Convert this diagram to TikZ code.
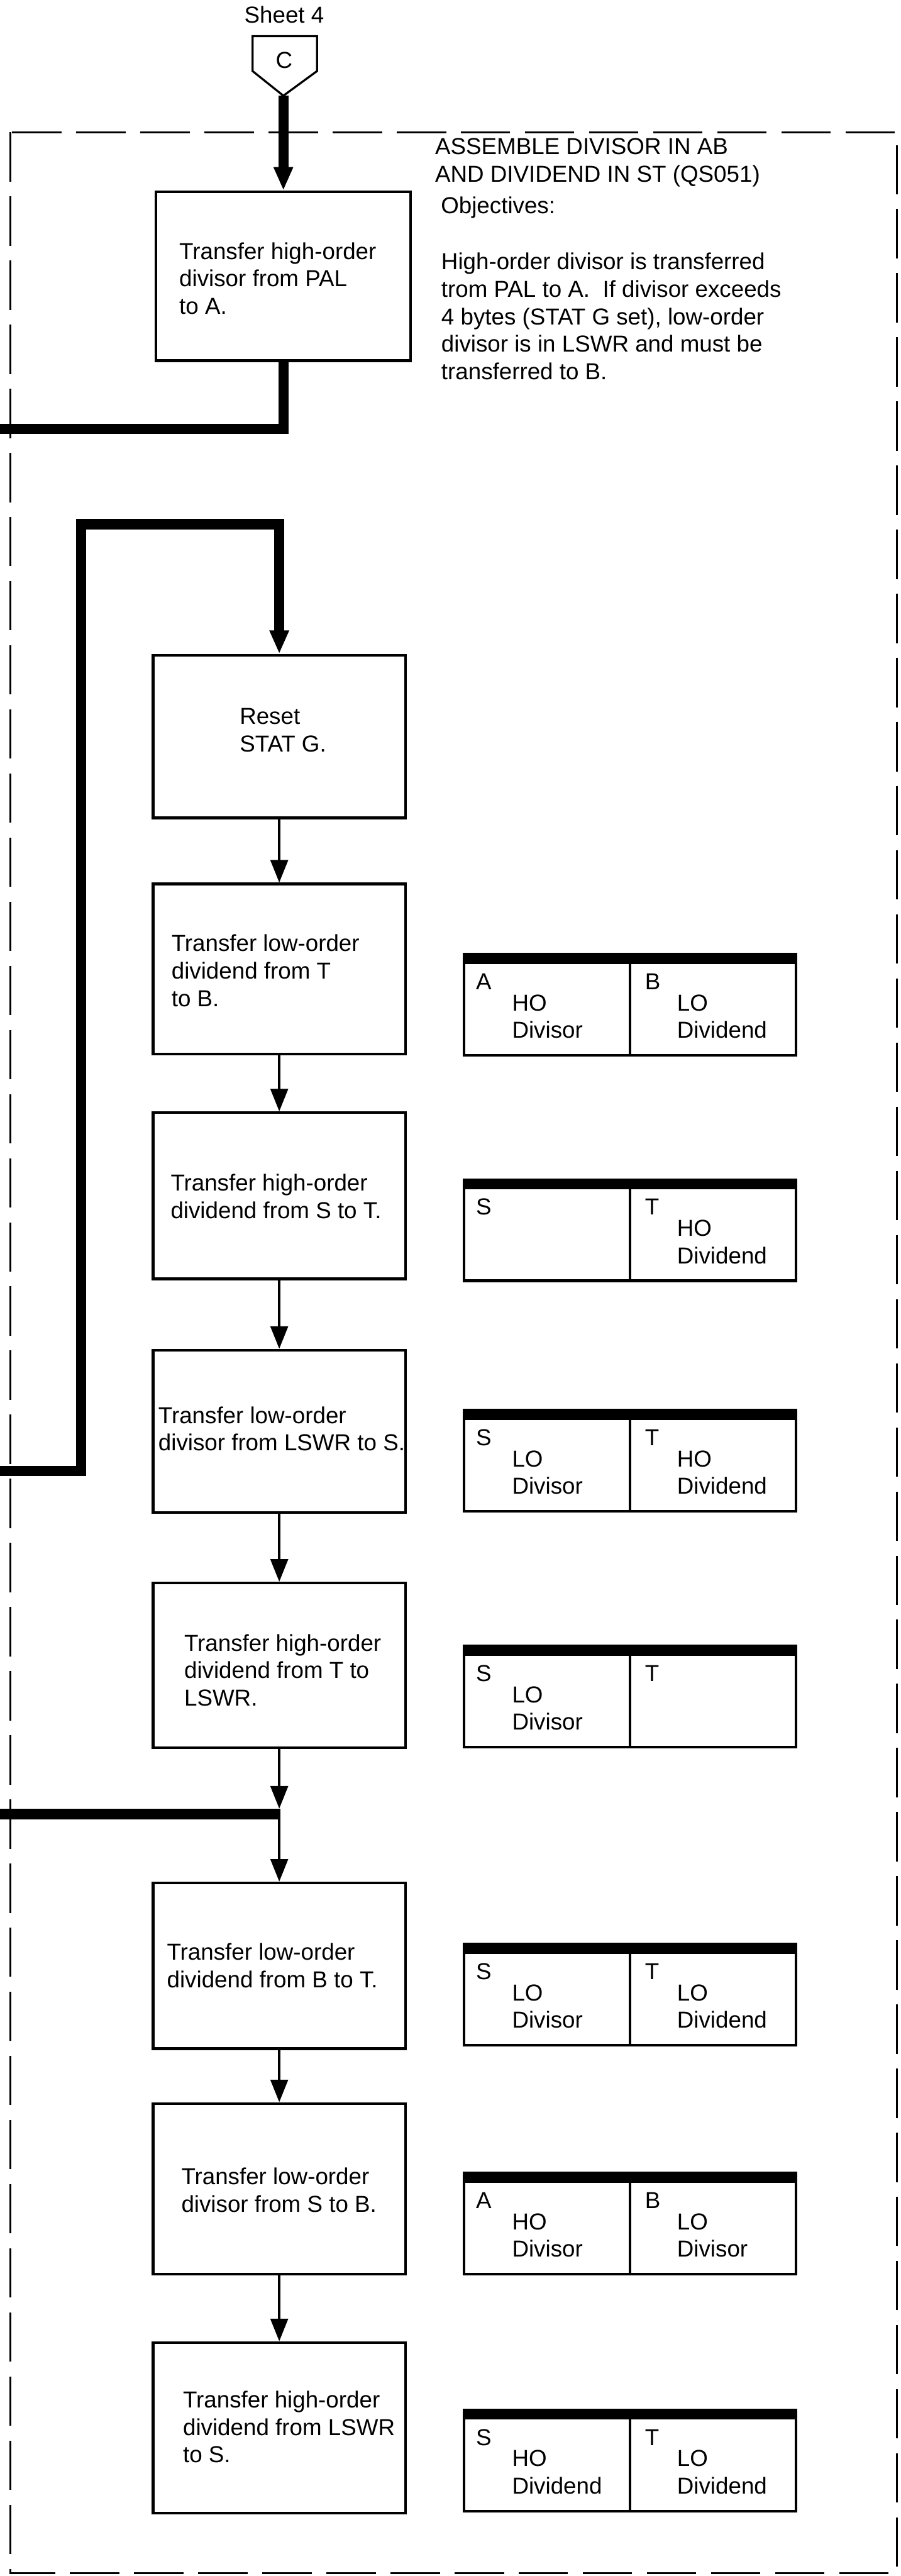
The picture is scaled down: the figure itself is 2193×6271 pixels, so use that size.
\documentclass[tikz,border=0pt]{standalone}
\usepackage{fontspec}
\setmainfont{Liberation Sans}
\usetikzlibrary{arrows.meta}
\newcommand{\RegBox}[6]{%
  \node[regbox] (#1) at (1534,#2+123) {};
  \fill (#1.north west) rectangle ([yshift=-0.27cm]#1.north east);
  \draw[regline] ([yshift=-0.27cm]#1.north) -- (#1.south);
  \node[txt] (#1-ll) at ([xshift=0.32cm,yshift=-0.70cm]#1.north west) {#3};
  \def\RegTmpA{#4}\ifx\RegTmpA\empty\else
    \node[txt] (#1-lc) at ([xshift=1.20cm,yshift=-1.55cm]#1.north west) {#4};\fi
  \node[txt] (#1-rl) at ([xshift=0.36cm,yshift=-0.70cm]#1.north) {#5};
  \def\RegTmpB{#6}\ifx\RegTmpB\empty\else
    \node[txt] (#1-rc) at ([xshift=1.14cm,yshift=-1.55cm]#1.north) {#6};\fi
}
\begin{document}
\begin{tikzpicture}[x=0.01cm,y=-0.01cm,
  txt/.style={font=\fontsize{16}{19}\selectfont, align=left, inner sep=0pt, anchor=west},
  plain/.style={font=\fontsize{16}{19}\selectfont, inner sep=0pt},
  procbox/.style={draw, line width=0.065cm, minimum width=6.14cm, inner sep=0pt},
  regbox/.style={draw, line width=0.07cm, minimum width=8.08cm, minimum height=2.46cm, inner sep=0pt},
  regline/.style={line width=0.07cm},
  thinflow/.style={line width=0.07cm, -{Triangle[width=0.42cm,length=0.55cm]}},
  thickline/.style={line width=0.25cm, line join=miter},
  thickflow/.style={thickline, -{Triangle[width=0.44cm,length=0.57cm]}},
  dashbox/.style={line width=0.05cm, dash pattern=on 1.2cm off 0.36cm}
]
\useasboundingbox (0,0) rectangle (2193,6271);

% dashed frame
\draw[dashbox] (25,322) rectangle (2184,6264);

% off-page connector
\node[plain] (sheet) at (692,35) {Sheet 4};
\draw[line width=0.05cm, line join=miter] (615,88) -- (772,88) -- (772,173) -- (690,233) -- (615,173) -- cycle;
\node[plain] (connC) at (692,146) {C};
\coordinate (ctip) at (690,233);

% objectives
\node[txt] (title) at (1059,396) {ASSEMBLE DIVISOR IN AB\\AND DIVIDEND IN ST (QS051)};
\node[txt] (obj) at (1073,505) {Objectives:};
\node[txt] (objbody) at (1074,770) {High-order divisor is transferred\\trom PAL to A.\ \ If divisor exceeds\\4 bytes (STAT G set), low-order\\divisor is in LSWR and must be\\transferred to B.};

% process boxes
\node[procbox, minimum width=6.20cm, minimum height=4.11cm] (b1) at (690,672.5) {};
\node[procbox, minimum height=3.96cm] (b2) at (680,1793) {};
\node[procbox, minimum height=4.14cm] (b3) at (680,2359) {};
\node[procbox, minimum height=4.04cm] (b4) at (680,2911) {};
\node[procbox, minimum height=3.95cm] (b5) at (680,3484.5) {};
\node[procbox, minimum height=4.00cm] (b6) at (680,4054) {};
\node[procbox, minimum height=4.03cm] (b7) at (680,4785.5) {};
\node[procbox, minimum height=4.15cm] (b8) at (680,5328.5) {};
\node[procbox, minimum height=4.15cm] (b9) at (680,5910.5) {};

\node[txt] (t1) at (436,678) {Transfer high-order\\divisor from PAL\\to A.};
\node[txt] (t2) at (583,1778) {Reset\\STAT G.};
\node[txt] (t3) at (417,2363) {Transfer low-order\\dividend from T\\to B.};
\node[txt] (t4) at (415,2912) {Transfer high-order\\dividend from S to T.};
\node[txt] (t5) at (385,3478) {Transfer low-order\\divisor from LSWR to S.};
\node[txt] (t6) at (448,4066) {Transfer high-order\\dividend from T to\\LSWR.};
\node[txt] (t7) at (406,4785) {Transfer low-order\\dividend from B to T.};
\node[txt] (t8) at (441,5331) {Transfer low-order\\divisor from S to B.};
\node[txt] (t9) at (445,5908) {Transfer high-order\\dividend from LSWR\\to S.};

% register boxes
\RegBox{r1}{2323}{A}{HO\\Divisor}{B}{LO\\Dividend}
\RegBox{r2}{2872}{S}{}{T}{HO\\Dividend}
\RegBox{r3}{3433}{S}{LO\\Divisor}{T}{HO\\Dividend}
\RegBox{r4}{4007}{S}{LO\\Divisor}{T}{}
\RegBox{r5}{4733}{S}{LO\\Divisor}{T}{LO\\Dividend}
\RegBox{r6}{5290}{A}{HO\\Divisor}{B}{LO\\Divisor}
\RegBox{r7}{5867}{S}{HO\\Dividend}{T}{LO\\Dividend}

% thick flow lines
\draw[thickflow] (ctip) -- (b1.north);
\coordinate (exitA) at (0,1044);
\draw[thickline] (b1.south) |- (exitA);
\coordinate (loopIn) at (0,3581);
\coordinate (lp1) at (198,3581);
\coordinate (lp2) at (198,1276);
\draw[thickflow] (loopIn) -- (lp1) -- (lp2) -| (b2.north);
\coordinate (j) at (680,4403);
\coordinate (jin) at (0,4416);
\draw[thickline] (jin) -- (jin -| j);

% thin flow lines
\draw[thinflow] (b2.south) -- (b3.north);
\draw[thinflow] (b3.south) -- (b4.north);
\draw[thinflow] (b4.south) -- (b5.north);
\draw[thinflow] (b5.south) -- (b6.north);
\draw[thinflow] (b6.south) -- (j);
\draw[thinflow] (j) -- (b7.north);
\draw[thinflow] (b7.south) -- (b8.north);
\draw[thinflow] (b8.south) -- (b9.north);
\end{tikzpicture}
\end{document}
